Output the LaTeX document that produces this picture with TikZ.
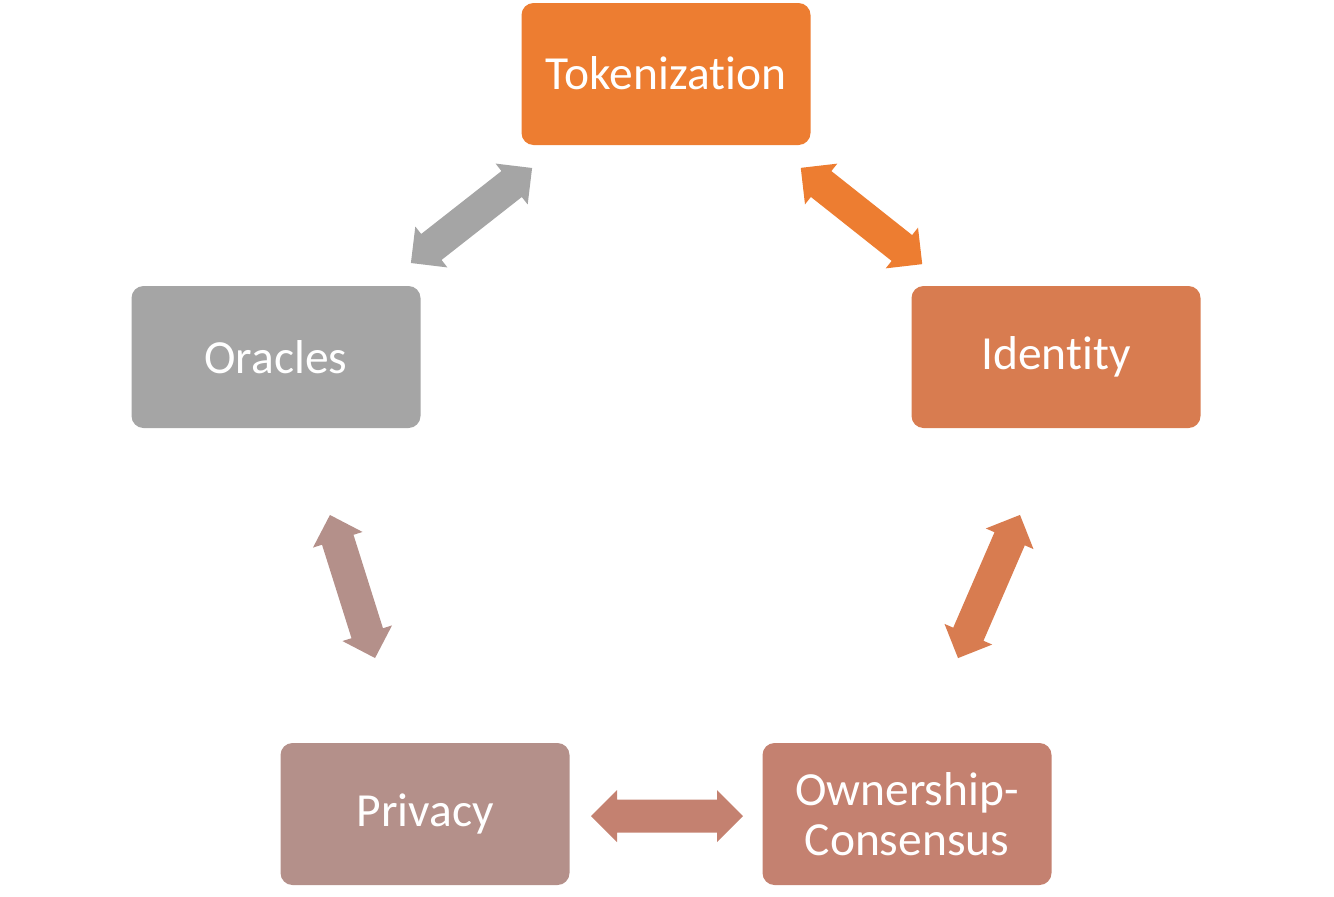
\documentclass[tikz,border=0pt]{standalone}
\usepackage{fontspec}
\setmainfont{Carlito}[Ligatures=NoCommon,RawFeature=-liga]
\usetikzlibrary{calc}
\definecolor{ctok}{HTML}{ED7D31}
\definecolor{cid}{HTML}{D87C50}
\definecolor{cown}{HTML}{C48170}
\definecolor{cpriv}{HTML}{B4908A}
\definecolor{corc}{HTML}{A5A5A5}
\newcommand{\dblarr}[4]{%
  \begin{scope}[shift={#1},rotate=#2]
    \fill[#4] (-#3/2,0) -- (-#3/2+26,26) -- (-#3/2+26,16.5) -- (#3/2-26,16.5) -- (#3/2-26,26) -- (#3/2,0)
      -- (#3/2-26,-26) -- (#3/2-26,-16.5) -- (-#3/2+26,-16.5) -- (-#3/2+26,-26) -- cycle;
  \end{scope}}
\begin{document}
\begin{tikzpicture}[x=1pt,y=-1pt,
  box/.style={rounded corners=12pt,minimum width=289pt,minimum height=142pt,
    text=white,align=center,inner sep=0pt,
    font=\fontsize{47.5}{50}\selectfont}]
\useasboundingbox (0,0) rectangle (1334,897);
\node[box,fill=ctok] (tok) at (666,74) {\raisebox{2pt}{Tokenization}};
\node[box,fill=cid] (id) at (1056,357) {Identity};
\node[box,fill=cown] (own) at (907,814) {Ownership-\\Consensus};
\node[box,fill=cpriv] (priv) at (425,814) {Privacy};
\node[box,fill=corc] (orc) at (276,357) {Oracles};
% arrow end points
\coordinate (a1s) at (411,263); \coordinate (a1e) at (532,168);
\coordinate (a2s) at (801,168); \coordinate (a2e) at (922,264);
\coordinate (a3s) at (1020,515); \coordinate (a3e) at (958,658);
\coordinate (a4s) at (330,515); \coordinate (a4e) at (375,658);
\coordinate (a5s) at (591,816); \coordinate (a5e) at (743,816);
\dblarr{($(a1s)!0.5!(a1e)$)}{38.1}{154}{corc}
\dblarr{($(a2s)!0.5!(a2e)$)}{-38.4}{155}{ctok}
\dblarr{($(a3s)!0.5!(a3e)$)}{66.6}{156}{cid}
\dblarr{($(a4s)!0.5!(a4e)$)}{-72.5}{150}{cpriv}
\dblarr{($(a5s)!0.5!(a5e)$)}{0}{152}{cown}
\end{tikzpicture}
\end{document}
